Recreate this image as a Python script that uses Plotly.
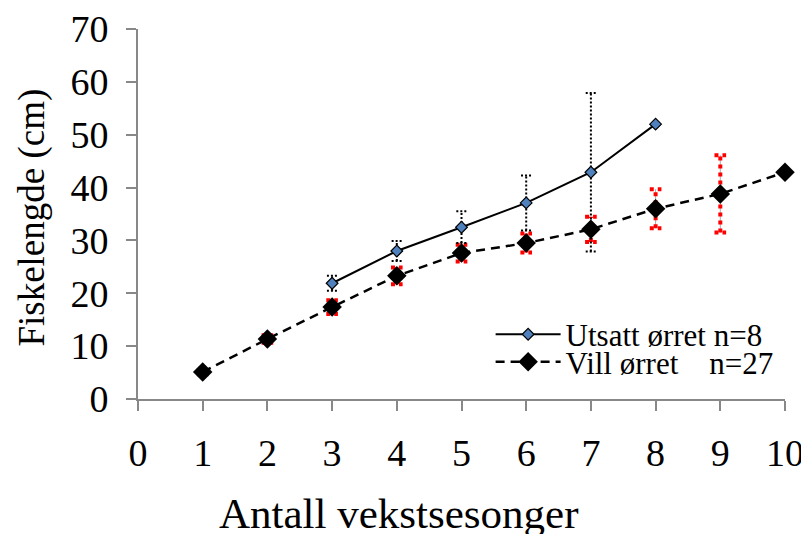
import plotly.graph_objects as go

# ---- data ----
utsatt_x = [3, 4, 5, 6, 7, 8]
utsatt_y = [21.9, 28.0, 32.5, 37.1, 42.9, 52.0]
utsatt_err = [1.4, 1.9, 3.0, 5.2, 15.0, 0.0]

vill_x = [1, 2, 3, 4, 5, 6, 7, 8, 9, 10]
vill_y = [5.1, 11.35, 17.4, 23.3, 27.6, 29.5, 32.1, 36.0, 38.8, 42.9]
vill_err = [0.4, 0.7, 1.3, 1.6, 1.6, 1.8, 2.4, 3.7, 7.3, 0.0]

x_ticks = list(range(0, 11))
y_ticks = list(range(0, 71, 10))

x_title = "Antall vekstsesonger"
y_title = "Fiskelengde (cm)"
name_utsatt = "Utsatt ørret n=8"
name_vill = "Vill ørret\u00a0\u00a0\u00a0\u00a0n=27"

FONT = "Liberation Serif, Times New Roman, serif"


def err_paths(xs, ys, es, cap):
    vx, vy, cx, cy = [], [], [], []
    for x, y, e in zip(xs, ys, es):
        if not e:
            continue
        vx += [x, x, None]
        vy += [y - e, y + e, None]
        for yy in (y - e, y + e):
            cx += [x - cap, x + cap, None]
            cy += [yy, yy, None]
    return vx, vy, cx, cy


fig = go.Figure()

# error bars - Vill (red dotted over thin gray)
vx, vy, cx, cy = err_paths(vill_x, vill_y, vill_err, 0.09)
fig.add_trace(go.Scatter(x=vx, y=vy, mode="lines", line=dict(color="#aaaaaa", width=1),
                         showlegend=False, hoverinfo="skip", cliponaxis=False))
fig.add_trace(go.Scatter(x=vx, y=vy, mode="lines", line=dict(color="#ff0000", width=4, dash="4px,4px"),
                         showlegend=False, hoverinfo="skip", cliponaxis=False))
fig.add_trace(go.Scatter(x=cx, y=cy, mode="lines", line=dict(color="#ff0000", width=4, dash="4px,4px"),
                         showlegend=False, hoverinfo="skip", cliponaxis=False))

# error bars - Utsatt (black dotted)
ux, uy, ucx, ucy = err_paths(utsatt_x, utsatt_y, utsatt_err, 0.08)
fig.add_trace(go.Scatter(x=ux, y=uy, mode="lines", line=dict(color="black", width=2, dash="2px,2px"),
                         showlegend=False, hoverinfo="skip", cliponaxis=False))
fig.add_trace(go.Scatter(x=ucx, y=ucy, mode="lines", line=dict(color="black", width=2, dash="2px,2px"),
                         showlegend=False, hoverinfo="skip", cliponaxis=False))

# main series
fig.add_trace(go.Scatter(
    x=utsatt_x, y=utsatt_y, mode="lines+markers", name=name_utsatt,
    line=dict(color="black", width=2),
    marker=dict(symbol="diamond", size=9, color="#4F81BD", line=dict(color="black", width=1.2)),
    cliponaxis=False, legend="legend"))
fig.add_trace(go.Scatter(
    x=vill_x, y=vill_y, mode="lines+markers", name=name_vill,
    line=dict(color="black", width=2.5, dash="9px,6px"),
    marker=dict(symbol="diamond", size=15, color="black"),
    cliponaxis=False, legend="legend2"))

axis_common = dict(showgrid=False, zeroline=False, showline=True, linecolor="#888888", linewidth=2,
                   ticks="outside", tickcolor="#888888", tickwidth=2, ticklen=10, automargin=False,
                   tickfont=dict(family=FONT, size=38, color="black"))

fig.update_layout(
    width=801, height=526,
    margin=dict(l=130, r=24, t=21, b=135),
    paper_bgcolor="white", plot_bgcolor="white",
    font=dict(family=FONT, color="black"),
    xaxis=dict(range=[0, 10], tickvals=x_ticks, ticklabelstandoff=9, **axis_common),
    yaxis=dict(range=[0, 70], tickvals=y_ticks, ticklabelstandoff=10, **axis_common),
    legend=dict(x=0.545, y=0.174, xanchor="left", yanchor="middle", bgcolor="rgba(0,0,0,0)",
                font=dict(family=FONT, size=31), itemwidth=65),
    legend2=dict(x=0.545, y=0.100, xanchor="left", yanchor="middle", bgcolor="rgba(0,0,0,0)",
                 font=dict(family=FONT, size=31), itemwidth=65),
    annotations=[
        dict(text=x_title, xref="paper", yref="paper", x=0.402, y=-0.31,
             xanchor="center", yanchor="middle", showarrow=False,
             font=dict(family=FONT, size=43, color="black")),
        dict(text=y_title, xref="paper", yref="paper", x=-0.164, y=0.49, textangle=-90,
             xanchor="center", yanchor="middle", showarrow=False,
             font=dict(family=FONT, size=37, color="black")),
    ],
)

fig.write_html("out.html")
